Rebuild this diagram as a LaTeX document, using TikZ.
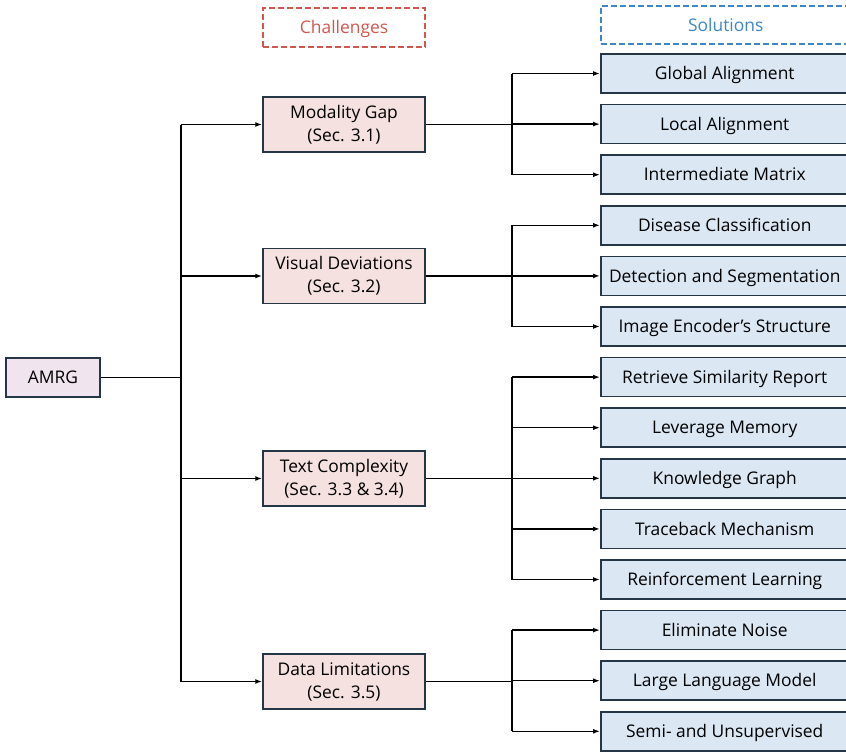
\documentclass[tikz,border=0pt]{standalone}
\usepackage{fontspec}
\setmainfont{Open Sans}
\usetikzlibrary{arrows.meta,positioning,calc}
\definecolor{boxline}{HTML}{253746}
\definecolor{chfill}{HTML}{F4E1E0}
\definecolor{solfill}{HTML}{DCE7F4}
\definecolor{rootfill}{HTML}{F0E5EE}
\definecolor{chred}{HTML}{D1574C}
\definecolor{solblue}{HTML}{3C86C9}
\begin{document}
\begin{tikzpicture}[
      x=1pt,y=-1pt,
      font=\fontsize{17.4}{23}\selectfont,
      oneline/.style={text height=0.72em+5pt,text depth=0pt},
      root/.style={rectangle,draw=boxline,fill=rootfill,line width=1.5pt,
                   minimum width=94pt,minimum height=39pt,inner sep=0pt,oneline},
      chal/.style={rectangle,draw=boxline,fill=chfill,line width=1.5pt,
                   minimum width=162pt,minimum height=55pt,align=center,inner sep=0pt},
      sol/.style={rectangle,draw=boxline,fill=solfill,line width=1.5pt,anchor=west,
                  minimum width=250pt,minimum height=39pt,inner sep=0pt,oneline},
      head/.style={rectangle,dashed,line width=1.5pt,dash pattern=on 6pt off 3pt,
                   minimum height=39pt,inner sep=0pt,oneline},
      arr/.style={-{Latex[length=7pt,width=5pt]},line width=1.5pt},
      wire/.style={line width=1.5pt}
    ]
    \useasboundingbox (0,0) rectangle (846,753);
    \clip (0,0) rectangle (846,753);

    % headers
    \node[head,draw=chred,text=chred,minimum width=162pt] (hchal) at (344,27.5) {Challenges};
    \node[head,draw=solblue,text=solblue,minimum width=250pt,minimum height=38pt,anchor=west] (hsol) at (600,25) {Solutions};

    % root and challenges
    \node[root] (amrg) at (53,377.5) {AMRG};
    \node[chal] (c1) at (344,124.5) {Modality Gap\\(Sec. 3.1)};
    \node[chal] (c2) at (344,276)   {Visual Deviations\\(Sec. 3.2)};
    \node[chal] (c3) at (344,478.5) {Text Complexity\\(Sec. 3.3 \& 3.4)};
    \node[chal] (c4) at (344,681.5) {Data Limitations\\(Sec. 3.5)};

    % solutions
    \foreach \name/\txt [count=\i from 0] in {
        s1/Global Alignment, s2/Local Alignment, s3/Intermediate Matrix,
        s4/Disease Classification, s5/Detection and Segmentation,
        s6/Image Encoder’s Structure, s7/Retrieve Similarity Report,
        s8/Leverage Memory, s9/Knowledge Graph, s10/Traceback Mechanism,
        s11/Reinforcement Learning, s12/Eliminate Noise,
        s13/Large Language Model, s14/Semi- and Unsupervised}
      \node[sol] (\name) at (600,{73.5+50.6*\i}) {\hspace*{-2pt}\txt};

    % trunk from the root
    \coordinate (trunk) at (181,377.5);
    \draw[wire] (amrg.east) -- (trunk);
    \draw[wire] (trunk |- c1) -- (trunk |- c4);
    \foreach \c in {c1,c2,c3,c4}
      \draw[arr] (trunk |- \c) -- (\c.west);

    % branches to the solutions
    \coordinate (bus) at (512,0);
    \draw[wire] (c1.east) -- (bus |- c1);
    \draw[wire] (c2.east) -- (bus |- c2);
    \draw[wire] (c3.east) -- (bus |- c3);
    \draw[wire] (c4.east) -- (bus |- c4);
    \draw[wire] (bus |- s1) -- (bus |- s3);
    \draw[wire] (bus |- s4) -- (bus |- s6);
    \draw[wire] (bus |- s7) -- (bus |- s11);
    \draw[wire] (bus |- s12) -- (bus |- s14);
    \foreach \s in {s1,s2,s3,s4,s5,s6,s7,s8,s9,s10,s11,s12,s13,s14}
      \draw[arr] (bus |- \s) -- (\s.west);

  \end{tikzpicture}
\end{document}
